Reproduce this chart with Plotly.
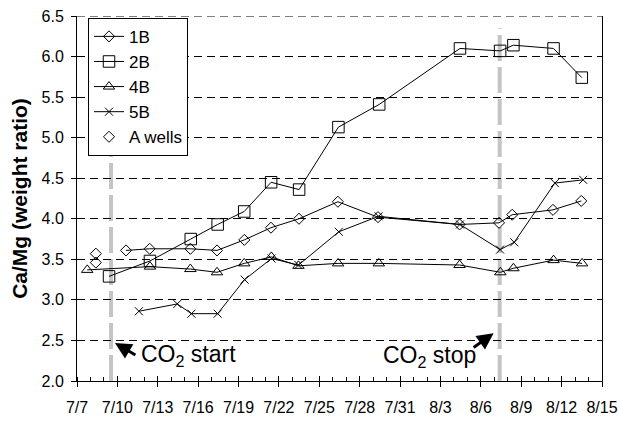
import plotly.graph_objects as go

# x values are days after 7/7
tick_days = [0, 3, 6, 9, 12, 15, 18, 21, 24, 27, 30, 33, 36, 39]
tick_labels = ["7/7", "7/10", "7/13", "7/16", "7/19", "7/22", "7/25", "7/28",
               "7/31", "8/3", "8/6", "8/9", "8/12", "8/15"]

days_1B = [3.64, 5.40, 8.42, 10.40, 12.43, 14.41, 16.49, 19.38, 22.36, 28.42, 31.35, 32.33, 35.36, 37.46]
vals_1B = [3.61, 3.63, 3.63, 3.61, 3.74, 3.89, 4.00, 4.21, 4.02, 3.93, 3.95, 4.05, 4.11, 4.22]

days_2B = [2.38, 5.42, 8.45, 10.45, 12.42, 14.42, 16.50, 19.42, 22.45, 28.45, 31.43, 32.42, 35.40, 37.50]
vals_2B = [3.29, 3.48, 3.75, 3.93, 4.09, 4.45, 4.36, 5.13, 5.41, 6.10, 6.07, 6.14, 6.10, 5.74]

days_4B = [0.76, 5.42, 8.42, 10.40, 12.42, 14.44, 16.45, 19.40, 22.42, 28.42, 31.45, 32.42, 35.40, 37.52]
vals_4B = [3.37, 3.41, 3.38, 3.34, 3.45, 3.53, 3.42, 3.45, 3.45, 3.43, 3.34, 3.39, 3.49, 3.45]

days_5B = [4.60, 7.45, 8.50, 10.45, 12.45, 14.45, 16.45, 19.45, 22.40, 28.45, 31.43, 32.48, 35.50, 37.60]
vals_5B = [2.86, 2.95, 2.83, 2.83, 3.25, 3.51, 3.43, 3.84, 4.03, 3.93, 3.62, 3.71, 4.44, 4.48]

days_A = [1.40, 1.40]
vals_A = [3.57, 3.46]

co2_start_day = 2.53
co2_stop_day = 31.4

FONT = "Liberation Sans, Arial, sans-serif"
BLACK = "#000000"

fig = go.Figure()

def add_series(name, x, y, symbol, size, mode="lines+markers"):
    fig.add_trace(go.Scatter(
        x=x, y=y, name=name, mode=mode,
        line=dict(color=BLACK, width=1),
        marker=dict(symbol=symbol, size=size, color=BLACK,
                    line=dict(color=BLACK, width=1)),
    ))

add_series("1B", days_1B, vals_1B, "diamond-open", 8.5)
add_series("2B", days_2B, vals_2B, "square-open", 11.5)
add_series("4B", days_4B, vals_4B, "triangle-up-open", 10)
add_series("5B", days_5B, vals_5B, "x-thin-open", 8)
add_series("A wells", days_A, vals_A, "diamond-open", 8.5, mode="markers")

# dummy trace for overlay axes (inside halves of crossing ticks)
fig.add_trace(go.Scatter(x=[], y=[], xaxis="x2", yaxis="y2", showlegend=False))

xr = [0, 39]
yr = [2.0, 6.5]

fig.update_layout(
    width=620, height=421,
    margin=dict(l=77, r=18, t=16, b=40, autoexpand=False),
    paper_bgcolor="white", plot_bgcolor="white",
    font=dict(family=FONT, color=BLACK, size=16),
    showlegend=True,
    legend=dict(x=0.021, y=0.995, xanchor="left", yanchor="top",
                bgcolor="white", bordercolor=BLACK, borderwidth=1,
                font=dict(size=17, family=FONT, color=BLACK),
                itemwidth=30, tracegroupgap=0),
    xaxis=dict(range=xr, tickmode="array", tickvals=tick_days, ticktext=tick_labels,
               ticks="outside", ticklen=5, tickcolor=BLACK, tickwidth=1,
               showline=True, linecolor=BLACK, linewidth=1, mirror=False,
               showgrid=False, zeroline=False, ticklabelstandoff=7,
               tickfont=dict(size=16), automargin=False,
               minor=dict(dtick=1, tick0=0, ticks="inside", ticklen=4,
                          tickcolor=BLACK, tickwidth=1, showgrid=False)),
    yaxis=dict(range=yr, dtick=0.5, tick0=2.0, tickformat=".1f",
               ticks="outside", ticklen=5, tickcolor=BLACK, tickwidth=1,
               showline=True, linecolor=BLACK, linewidth=1, mirror=True,
               showgrid=True, gridcolor=BLACK, gridwidth=1, griddash="8px,5px",
               zeroline=False, ticklabelstandoff=4, tickfont=dict(size=16),
               automargin=False,
               title=dict(text="Ca/Mg (weight ratio)", standoff=8,
                          font=dict(size=21, family=FONT, weight="bold"))),
    xaxis2=dict(range=xr, overlaying="x", anchor="y", side="bottom",
                tickmode="array", tickvals=tick_days, showticklabels=False,
                ticks="inside", ticklen=5, tickcolor=BLACK, tickwidth=1,
                showline=False, showgrid=False, zeroline=False, automargin=False),
    yaxis2=dict(range=yr, overlaying="y", anchor="x", side="left",
                dtick=0.5, tick0=2.0, showticklabels=False,
                ticks="inside", ticklen=5, tickcolor=BLACK, tickwidth=1,
                showline=False, showgrid=False, zeroline=False, automargin=False),
)

# top dashed gridline at 6.5
fig.add_shape(type="line", xref="paper", x0=0, x1=1, yref="y", y0=6.5, y1=6.5,
              line=dict(color=BLACK, width=1, dash="8px,5px"), layer="below")

# CO2 start/stop reference lines
for d in (co2_start_day, co2_stop_day):
    fig.add_shape(type="line", xref="x", x0=d, x1=d, yref="y", y0=2.0, y1=6.35,
                  line=dict(color="#c4c4c4", width=4, dash="26px,6px"), layer="below")

# annotations
fig.add_annotation(x=8.25, y=2.31, xref="x", yref="y", text="CO<sub>2</sub> start",
                   showarrow=False, font=dict(size=23, family=FONT, color=BLACK),
                   xanchor="center", yanchor="middle")
fig.add_annotation(x=26.2, y=2.30, xref="x", yref="y", text="CO<sub>2</sub> stop",
                   showarrow=False, font=dict(size=23, family=FONT, color=BLACK),
                   xanchor="center", yanchor="middle")
fig.add_annotation(x=2.82, y=2.47, ax=4.45, ay=2.31, xref="x", yref="y",
                   axref="x", ayref="y", text="", showarrow=True,
                   arrowhead=2, arrowsize=1.1, arrowwidth=3, arrowcolor=BLACK,
                   startstandoff=0, standoff=0)
fig.add_annotation(x=30.95, y=2.59, ax=29.35, ay=2.40, xref="x", yref="y",
                   axref="x", ayref="y", text="", showarrow=True,
                   arrowhead=2, arrowsize=1.1, arrowwidth=3, arrowcolor=BLACK,
                   startstandoff=0, standoff=0)

fig.write_html("out.html")
